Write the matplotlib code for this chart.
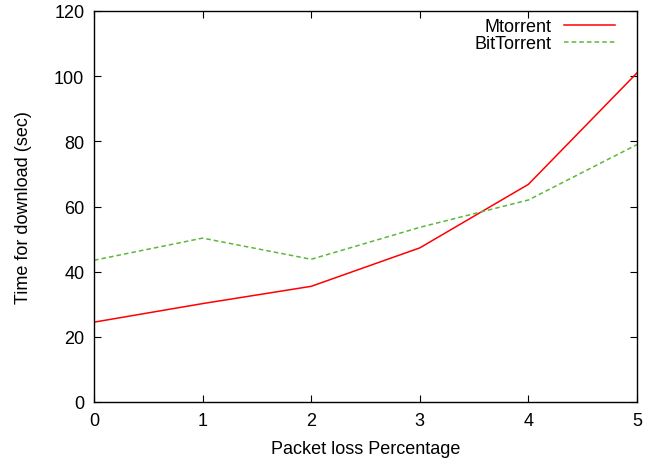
import matplotlib.pyplot as plt

plt.rcParams['font.family'] = ['Liberation Sans', 'DejaVu Sans']

loss = [0, 1, 2, 3, 4, 5]
mtorrent = [24.5, 30.2, 35.5, 47.3, 66.8, 101.0]
bittorrent = [43.5, 50.3, 43.8, 53.6, 62.0, 79.0]

fig = plt.figure(figsize=(6.45, 4.64), dpi=100)
ax = fig.add_axes([94/645, 1 - 403/464, 543/645, 391/464])

ax.plot(loss, mtorrent, color='#ff0000', lw=1.1, label='Mtorrent')
ax.plot(loss, bittorrent, color='#5cb83a', lw=1.1, ls=(0, (3, 2)), label='BitTorrent')

ax.set_xlim(0, 5)
ax.set_ylim(0, 120)
ax.set_xticks(range(0, 6))
ax.set_yticks(range(0, 121, 20))
ax.tick_params(direction='in', top=True, right=True, labelsize=13, length=5, pad=7)
for s in ax.spines.values():
    s.set_linewidth(1.0)

ax.set_xlabel('Packet loss Percentage', fontsize=13, labelpad=8)
ax.set_ylabel('Time for download (sec)', fontsize=13, labelpad=16)

ax.legend(loc='upper right', frameon=False, markerfirst=False, fontsize=13,
          handlelength=2.8, labelspacing=0.0, borderaxespad=0.0,
          bbox_to_anchor=(0.972, 1.0), handletextpad=0.67)

fig.savefig('out.png', dpi=100)
